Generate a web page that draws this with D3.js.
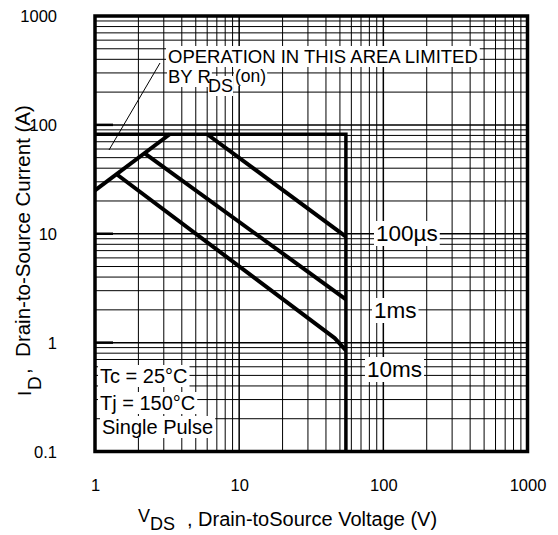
<!DOCTYPE html>
<html><head><meta charset="utf-8">
<script src="https://cdn.jsdelivr.net/npm/d3@7"></script>
<style>body{margin:0;background:#fff}svg{display:block}text{font-family:"Liberation Sans",Arial,sans-serif;fill:#000}</style>
</head><body><svg id="c" width="558" height="535"></svg>
<script>
// ---- data ----
const xTickValues = [1, 10, 100, 1000];
const xTickLabels = ["1", "10", "100", "1000"];
const yTickValues = [0.1, 1, 10, 100, 1000];
const yTickLabels = ["0.1", "1", "10", "100", "1000"];
const limitCurrent = 82;      // A
const limitVoltage = 55;      // V
const rdsLine = [[1, 25], [3.3, 82]];
const pulse100us = [[6, 82], [55, 9.4]];
const pulse1ms = [[2.2, 55], [55, 2.5]];
const pulse10ms = [[1.42, 35], [46, 1.1], [55, 0.85]];
const boundary = [[1, limitCurrent], [limitVoltage, limitCurrent], [limitVoltage, 0.1]];
const curveLabels = ["100µs", "1ms", "10ms"];
const conditions = ["Tc = 25°C", "Tj = 150°C", "Single Pulse"];

// ---- layout ----
const L = 95, R = 527.5, T = 16, B = 451.5;
const svg = d3.select("#c");
const x = d3.scaleLog().domain([1, 1000]).range([L, R]);
const y = d3.scaleLog().domain([0.1, 1000]).range([B, T]);

// grid
const gx = [], gy = [];
for (let d = 1; d < 1000; d *= 10) for (let k = 2; k <= 9; k++) gx.push(d * k);
for (let d = 0.1; d < 999; d *= 10) for (let k = 2; k <= 9; k++) gy.push(+(d * k).toPrecision(3));
const grid = svg.append("g");
grid.selectAll(".vx").data(gx.concat([10, 100])).join("line")
  .attr("x1", d => x(d)).attr("x2", d => x(d)).attr("y1", T).attr("y2", B)
  .attr("stroke", "#000").attr("stroke-width", d => (d === 10 || d === 100) ? 1.5 : 1);
grid.selectAll(".hy").data(gy.concat([1, 10, 100])).join("line")
  .attr("y1", d => y(d)).attr("y2", d => y(d)).attr("x1", L).attr("x2", R)
  .attr("stroke", "#000").attr("stroke-width", d => [1, 10, 100].includes(d) ? 1.5 : 1);
grid.selectAll(".tk").data([1, 10, 100]).join("line")
  .attr("y1", d => y(d)).attr("y2", d => y(d)).attr("x1", L).attr("x2", L + 18)
  .attr("stroke", "#000").attr("stroke-width", 2.5);

// axes tick labels
const xa = d3.axisBottom(x).tickValues(xTickValues).tickFormat((d, i) => xTickLabels[i]).tickSize(0).tickPadding(0);
const xg = svg.append("g").attr("transform", `translate(0,${B})`).call(xa);
xg.select(".domain").remove();
xg.selectAll("text").attr("font-size", 16.5).attr("dy", null).attr("y", 39).style("font-family", "Liberation Sans, Arial, sans-serif");
const ya = d3.axisLeft(y).tickValues(yTickValues).tickFormat((d, i) => yTickLabels[i]).tickSize(0).tickPadding(0);
const yg = svg.append("g").attr("transform", `translate(57,0)`).call(ya);
yg.select(".domain").remove();
yg.selectAll("text").attr("font-size", 16.5).attr("x", 0).attr("dy", "0.36em").style("font-family", "Liberation Sans, Arial, sans-serif");

// lines
const line = d3.line().x(d => x(d[0])).y(d => y(d[1]));
const curves = svg.append("g").attr("fill", "none").attr("stroke", "#000").attr("stroke-linejoin", "round");
curves.append("path").attr("d", line(boundary)).attr("stroke-width", 3.5).attr("stroke-linejoin", "miter");
[rdsLine, pulse100us, pulse1ms, pulse10ms].forEach(s => curves.append("path").attr("d", line(s)).attr("stroke-width", 4));

// frame
svg.append("rect").attr("x", L).attr("y", T).attr("width", R - L).attr("height", B - T)
  .attr("fill", "none").attr("stroke", "#000").attr("stroke-width", 3.5);

// text with white background
const bg = svg.append("g"), fg = svg.append("g");
function label(tx, ty, str, size, pad) {
  const t = fg.append("text").attr("x", tx).attr("y", ty).attr("font-size", size).text(str);
  const b = t.node().getBBox();
  const p = pad === undefined ? 2 : pad;
  bg.append("rect").attr("fill", "#fff").attr("x", b.x - p).attr("y", b.y).attr("width", b.width + 2 * p).attr("height", b.height);
  return t;
}

label(168, 63, "OPERATION IN THIS AREA LIMITED", 18.5);
label(168, 83, "BY R", 18.5, 1);
label(208, 92, "DS", 18, 0);
label(235, 82, "(on)", 17.5, 1);
svg.append("line").attr("x1", 160).attr("y1", 63).attr("x2", 109).attr("y2", 150).attr("stroke", "#000").attr("stroke-width", 1);

label(376, 241, curveLabels[0], 22.5);
label(374, 318, curveLabels[1], 22.5);
label(367, 377, curveLabels[2], 22.5);

label(100, 383, conditions[0], 20);
label(100, 410, conditions[1], 20);
label(102, 434, conditions[2], 20);

// axis titles
const xt = svg.append("g");
xt.append("text").attr("x", 138).attr("y", 522).attr("font-size", 18).text("V");
xt.append("text").attr("x", 150).attr("y", 530).attr("font-size", 18).text("DS");
xt.append("text").attr("x", 187).attr("y", 526).attr("font-size", 20).text(", Drain-toSource Voltage (V)");

const yt = svg.append("g");
yt.append("text").attr("transform", "translate(31,396) rotate(-90)").attr("font-size", 19).text("I");
yt.append("text").attr("transform", "translate(41,390) rotate(-90)").attr("font-size", 19).text("D");
yt.append("text").attr("transform", "translate(30,374) rotate(-90)").attr("font-size", 20.5).style("white-space", "pre").text(",  Drain-to-Source Current (A)");
</script></body></html>
